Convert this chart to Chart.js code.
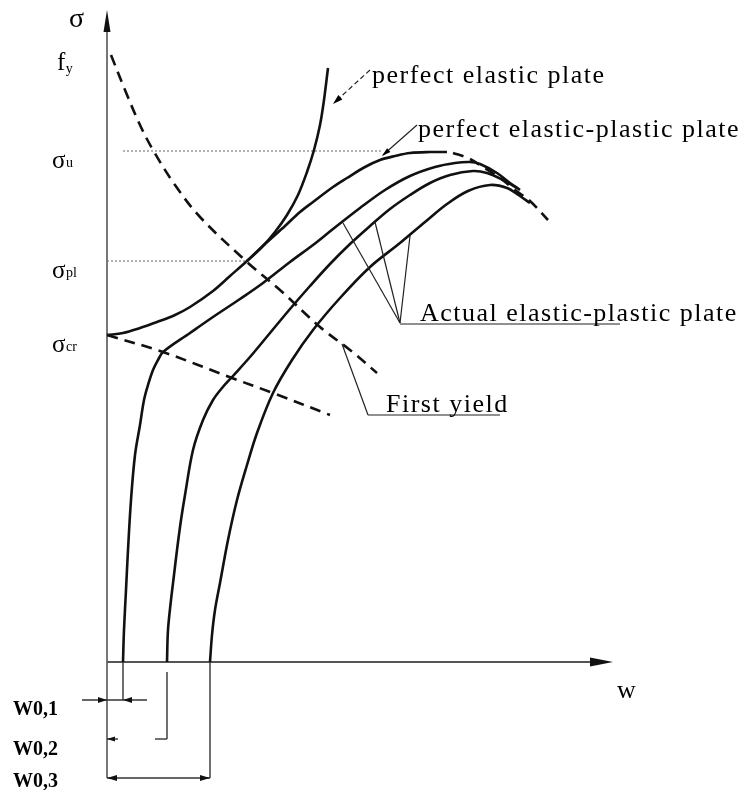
<!DOCTYPE html>
<html lang="en">
  <head>
    <meta charset="UTF-8" />
    <title>Plate load-deflection curves</title>
    <script src="https://cdn.jsdelivr.net/npm/chart.js"></script>
    <style>
      body {
        margin: 0;
        background: #fff;
      }
      .wrap {
        width: 748px;
        height: 790px;
      }
    </style>
  </head>
  <body>
    <div class="wrap"><canvas id="chart"></canvas></div>

    <script>
      // all curves are [w, sigma] pairs (schematic units)
      const W0 = [16, 60, 103]; // w0,1  w0,2  w0,3
      const sigmaLevels = [607, 511, 401, 327]; // fy, σu, σpl, σcr
      const levelMain = ["f", "σ", "σ", "σ"];
      const levelSub = ["y", "u", "pl", "cr"];

      const elastic = [[0,327],[16,329],[33,334],[50,340],[68,347],[83,355],[106,371],[123,386],[140,401],[155,415],[168,430],[180,447],[191,467],[200,490],[207,512],[213,537],[217,562],[221,594]];
      const perfectEP = [[140,401],[158,418],[178,436],[193,450],[206,460],[226,475],[240,484],[258,495],[273,502],[288,506],[303,509],[323,510],[340,510]];
      const actual1 = [[16,0],[17,32],[19,72],[21,112],[24,162],[28,207],[33,237],[37,262],[41,277],[46,292],[51,302],[56,310],[83,329],[106,345],[133,363],[156,379],[183,400],[206,417],[226,433],[253,454],[278,472],[303,486],[328,495],[348,499],[363,500],[373,498],[390,489],[403,479],[413,472]];
      const actual2 = [[60,0],[61,32],[64,62],[67,87],[70,112],[74,142],[78,167],[86,212],[96,242],[106,262],[115,274],[125,285],[143,305],[163,329],[183,353],[203,376],[223,398],[243,418],[263,436],[283,453],[303,467],[323,479],[343,487],[366,491],[380,489],[396,482],[410,474]];
      const actual3 = [[103,0],[105,27],[108,52],[113,79],[121,122],[130,162],[140,197],[150,229],[166,269],[185,302],[206,332],[233,364],[263,395],[293,419],[318,440],[340,458],[361,471],[383,477],[400,474],[413,466],[423,459]];
      const ultimate = [[346,509],[361,504],[376,495],[393,484],[408,472],[423,461],[441,442]];
      const crLine = [[0,327],[56,310],[125,284],[166,269],[223,247]];
      const firstYield = [[4,607],[18,572],[33,537],[46,512],[68,477],[93,445],[140,400],[173,372],[213,335],[243,312],[270,289]];

      const SERIF = '"Liberation Serif", "DejaVu Serif", serif';
      const ink = "#111";

      function seg(ctx, a, b) {
        ctx.beginPath();
        ctx.moveTo(a[0], a[1]);
        ctx.lineTo(b[0], b[1]);
        ctx.stroke();
      }

      function head(ctx, from, tip, len, half) {
        const a = Math.atan2(tip[1] - from[1], tip[0] - from[0]);
        const bx = tip[0] - len * Math.cos(a);
        const by = tip[1] - len * Math.sin(a);
        ctx.beginPath();
        ctx.moveTo(tip[0], tip[1]);
        ctx.lineTo(bx + half * Math.sin(a), by - half * Math.cos(a));
        ctx.lineTo(bx - half * Math.sin(a), by + half * Math.cos(a));
        ctx.closePath();
        ctx.fill();
      }

      const sketch = {
        id: "sketch",
        beforeDatasetsDraw(chart) {
          const { ctx, scales: { x, y } } = chart;
          const P = (w, s) => [x.getPixelForValue(w), y.getPixelForValue(s)];
          ctx.save();

          // dotted reference levels
          ctx.strokeStyle = "#888";
          ctx.lineWidth = 1.3;
          ctx.setLineDash([2, 2]);
          seg(ctx, P(16, sigmaLevels[1]), P(276, sigmaLevels[1]));
          seg(ctx, P(0, sigmaLevels[2]), P(140, sigmaLevels[2]));
          ctx.setLineDash([]);

          // axes
          ctx.strokeStyle = "#777";
          ctx.lineWidth = 2;
          seg(ctx, P(0, -116), P(0, 640));
          ctx.strokeStyle = "#555";
          ctx.lineWidth = 1.8;
          seg(ctx, P(0, 0), P(492, 0));
          ctx.fillStyle = ink;
          head(ctx, P(0, 600), P(0, 652), 22, 3.5);
          head(ctx, P(450, 0), P(506, 0), 23, 4.5);

          // extension lines for w0
          ctx.strokeStyle = "#333";
          ctx.lineWidth = 1.4;
          seg(ctx, P(W0[0], 0), P(W0[0], -38));
          seg(ctx, P(W0[1], -10), P(W0[1], -77));
          seg(ctx, P(W0[2], 0), P(W0[2], -116));

          // dimension rows
          seg(ctx, P(-25, -38), P(40, -38));
          head(ctx, P(-20, -38), P(0, -38), 9, 3);
          head(ctx, P(36, -38), P(W0[0], -38), 9, 3);
          seg(ctx, P(0, -77), P(11, -77));
          head(ctx, P(11, -77), P(0, -77), 8, 2.5);
          seg(ctx, P(48, -77), P(W0[1], -77));
          seg(ctx, P(0, -116), P(W0[2], -116));
          head(ctx, P(20, -116), P(0, -116), 10, 3);
          head(ctx, P(80, -116), P(W0[2], -116), 10, 3);
          ctx.restore();
        },
        afterDatasetsDraw(chart) {
          const { ctx, scales: { x, y } } = chart;
          const P = (w, s) => [x.getPixelForValue(w), y.getPixelForValue(s)];
          ctx.save();
          ctx.fillStyle = "#000";
          ctx.strokeStyle = "#222";

          // leader lines
          ctx.lineWidth = 1.2;
          ctx.setLineDash([5, 3]);
          seg(ctx, P(263, 592), P(228, 560));
          ctx.setLineDash([]);
          head(ctx, P(263, 592), P(226, 558), 10, 3);
          seg(ctx, P(310, 537), P(276, 507));
          head(ctx, P(310, 537), P(275, 506), 9, 2.5);
          const hub = P(293, 339);
          seg(ctx, hub, P(236, 439));
          seg(ctx, hub, P(268, 440));
          seg(ctx, hub, P(303, 426));
          seg(ctx, [hub[0], hub[1] + 1], P(513, 338));
          seg(ctx, P(235, 318), P(261, 247));
          seg(ctx, P(261, 247), P(393, 247));

          // curve labels
          ctx.textBaseline = "alphabetic";
          ctx.textAlign = "left";
          ctx.font = "26px " + SERIF;
          ctx.letterSpacing = "1.5px";
          ctx.fillText("perfect elastic plate", 372, 83);
          ctx.fillText("perfect elastic-plastic plate", 418, 137);
          ctx.fillText("Actual elastic-plastic plate", 420, 321);
          ctx.fillText("First yield", 386, 412);
          ctx.letterSpacing = "0px";

          // axis labels
          ctx.font = "28px " + SERIF;
          ctx.fillText("σ", 69, 27);
          ctx.font = "26px " + SERIF;
          ctx.fillText("w", 617, 698);
          sigmaLevels.forEach((s, i) => {
            const yp = y.getPixelForValue(s) + 17;
            ctx.font = "25px " + SERIF;
            const main = levelMain[i];
            const xm = i === 0 ? 57 : 52;
            ctx.fillText(main, xm, yp - (i === 0 ? 2 : 0));
            const mw = ctx.measureText(main).width;
            ctx.font = "14px " + SERIF;
            ctx.fillText(levelSub[i], xm + mw + 0.5, yp + (i === 0 ? 1 : -1));
          });

          ctx.font = "bold 20px " + SERIF;
          ctx.fillText("W0,1", 13, 715);
          ctx.fillText("W0,2", 13, 755);
          ctx.fillText("W0,3", 13, 787);
          ctx.restore();
        },
      };

      function curve(points, dashed) {
        return {
          data: points.map(([w, s]) => ({ x: w, y: s })),
          showLine: true,
          borderColor: ink,
          borderWidth: 2.6,
          borderDash: dashed ? [11, 7] : [],
          pointRadius: 0,
          tension: 0.35,
          fill: false,
        };
      }

      new Chart(document.getElementById("chart"), {
        type: "scatter",
        data: {
          datasets: [
            curve(elastic),
            curve(perfectEP),
            curve(actual1),
            curve(actual2),
            curve(actual3),
            curve(ultimate, true),
            curve(crLine, true),
            curve(firstYield, true),
          ],
        },
        options: {
          responsive: true,
          maintainAspectRatio: false,
          animation: false,
          layout: { padding: 0 },
          scales: {
            x: { type: "linear", min: -107, max: 641, display: false },
            y: { type: "linear", min: -128, max: 662, display: false },
          },
          plugins: {
            legend: { display: false },
            tooltip: { enabled: false },
          },
        },
        plugins: [sketch],
      });
    </script>
  </body>
</html>
